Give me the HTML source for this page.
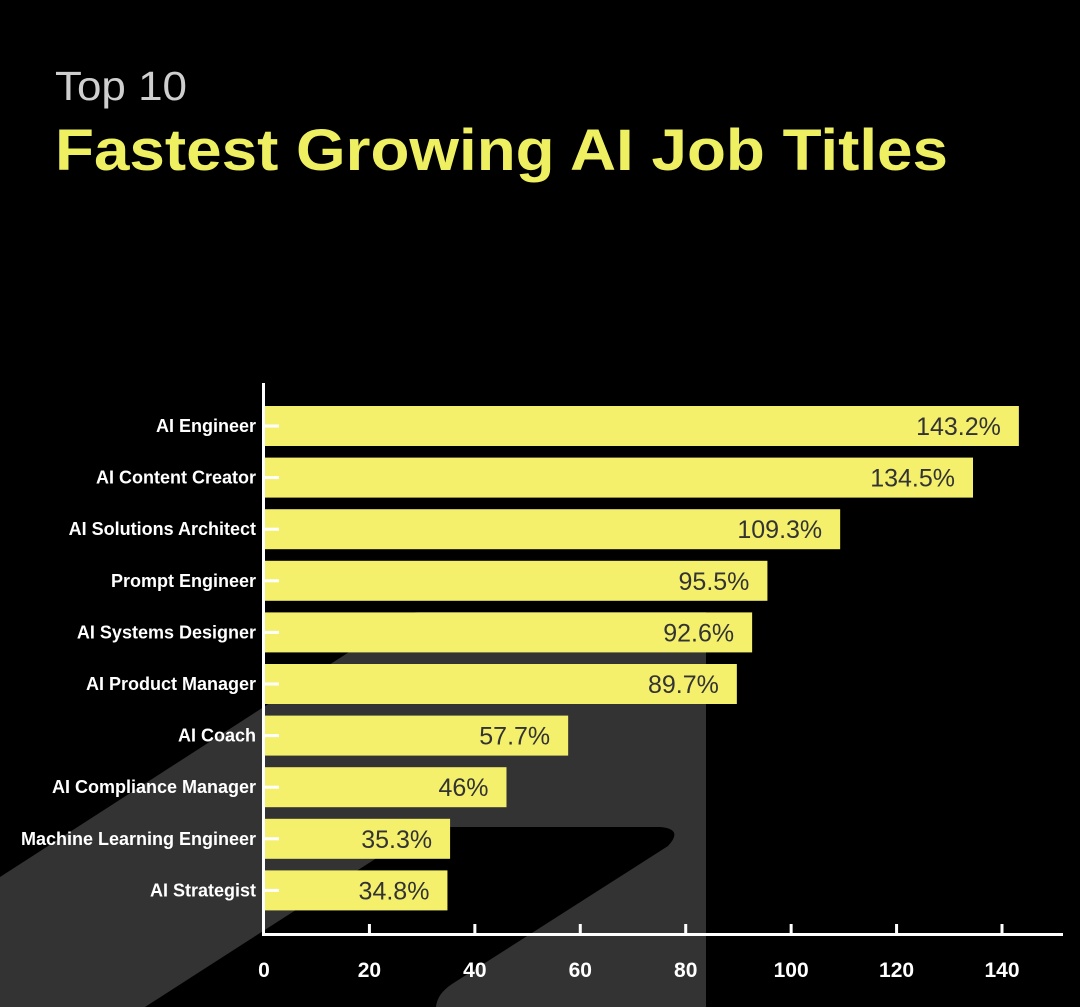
<!DOCTYPE html>
<html><head><meta charset="utf-8">
<style>
html,body{margin:0;padding:0;background:#000;}
svg{display:block;font-family:"Liberation Sans",sans-serif;}
</style></head>
<body>
<svg id="chart" width="1080" height="1007" viewBox="0 0 1080 1007" xmlns="http://www.w3.org/2000/svg">
<rect width="1080" height="1007" fill="#000"/>
<g>
<path d="M0 877 L405 616 Q411 612 420 612 L706 612 L706 1007 L0 1007 Z" fill="#333"/>
<path d="M145 1007 L425 827 L660 827 Q684 829 668 846 L452 984 Q437 994 436 1007 Z" fill="#000"/>
</g>
<text x="55" y="100" fill="#cfcfcf" font-size="41" textLength="132" lengthAdjust="spacingAndGlyphs">Top 10</text>
<text x="55" y="170" fill="#eef062" font-size="58" font-weight="bold" textLength="893" lengthAdjust="spacingAndGlyphs">Fastest Growing AI Job Titles</text>
<g id="plot"></g>
</svg>
<script>
const categories=["AI Engineer","AI Content Creator","AI Solutions Architect","Prompt Engineer","AI Systems Designer","AI Product Manager","AI Coach","AI Compliance Manager","Machine Learning Engineer","AI Strategist"];
const values=[143.2,134.5,109.3,95.5,92.6,89.7,57.7,46,35.3,34.8];
const valueLabels=["143.2%","134.5%","109.3%","95.5%","92.6%","89.7%","57.7%","46%","35.3%","34.8%"];
const xTicks=[0,20,40,60,80,100,120,140];

const NS="http://www.w3.org/2000/svg";
const g=document.getElementById('plot');
const x0=264, pxPer=(1002-264)/140;
const xs=v=>x0+v*pxPer;
const y0=426, step=51.6;
const ys=i=>y0+i*step;
function mk(t,a){const e=document.createElementNS(NS,t);for(const k in a)e.setAttribute(k,a[k]);g.appendChild(e);return e;}
categories.forEach((c,i)=>{
  const cy=ys(i);
  const b=mk('rect',{x:x0,y:cy-20,width:xs(values[i])-x0,height:40,fill:'#f4f06c'});
  
  
  const tk=mk('rect',{x:x0,y:cy-1.5,width:15,height:3,fill:'#fff'});
  
  
  const l=mk('text',{x:256,y:cy+6,fill:'#fff','font-size':18,'font-weight':'bold','text-anchor':'end'});
  l.textContent=c;
  
  
  const v=mk('text',{x:xs(values[i])-18,y:cy+9,fill:'#333','font-size':25,'text-anchor':'end'});
  v.textContent=valueLabels[i];
  
  
});
const ya=mk('rect',{x:262,y:383,width:3,height:553,fill:'#fff'});


const xa=mk('rect',{x:262,y:933,width:801,height:3,fill:'#fff'});


xTicks.forEach(t=>{
  if(t>0){const m=mk('rect',{x:xs(t)-1.5,y:924,width:3,height:10,fill:'#fff'});
  
  }
  const tl=mk('text',{x:xs(t),y:977,fill:'#fff','font-size':21,'font-weight':'bold','text-anchor':'middle'});
  tl.textContent=t;
  
  
});
</script>
</body></html>
